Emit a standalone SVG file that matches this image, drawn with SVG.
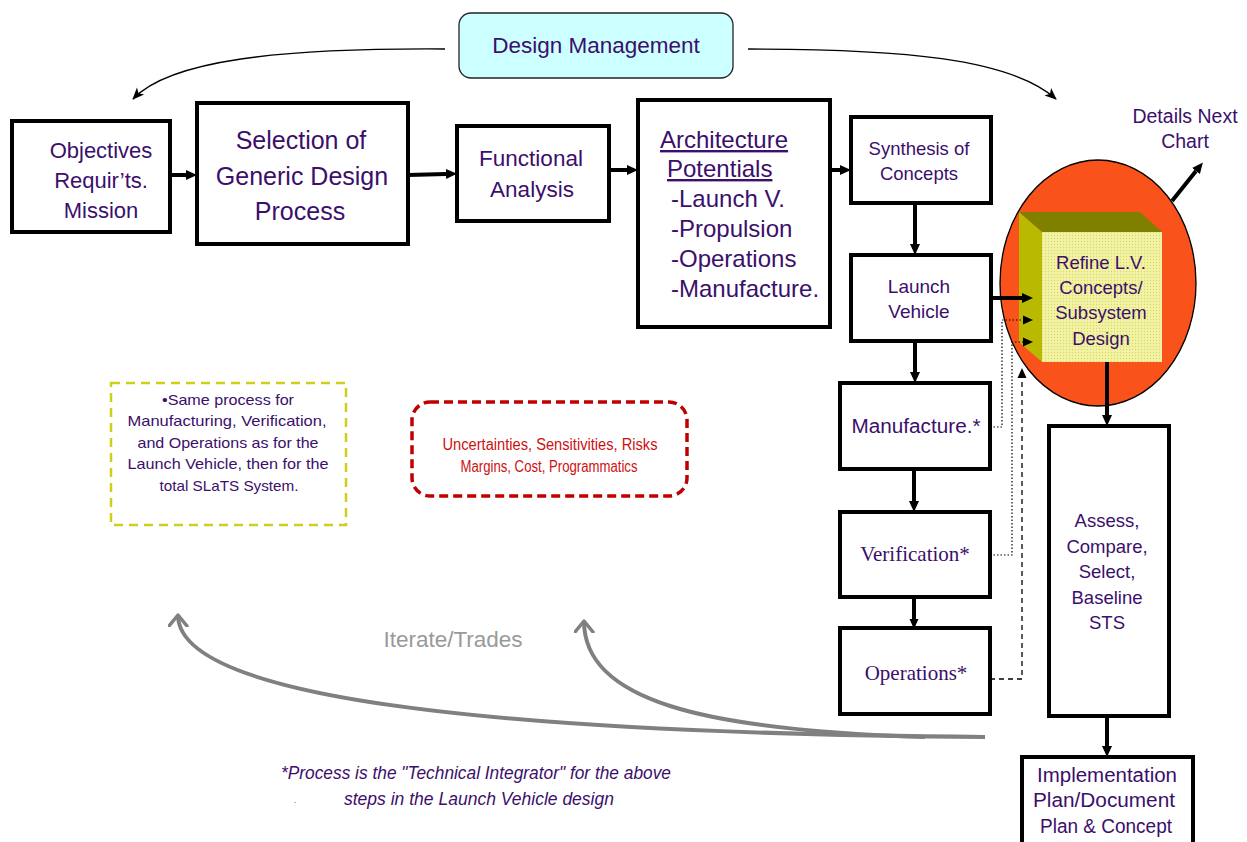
<svg xmlns="http://www.w3.org/2000/svg" width="1247" height="842" viewBox="0 0 1247 842">
<style>
.box{fill:#fff;stroke:#000;stroke-width:4}
.t{font-family:"Liberation Sans",Arial,sans-serif;fill:#3B0F6B;text-anchor:middle}
.ts{font-family:"Liberation Serif","Times New Roman",serif;fill:#3B0F6B;text-anchor:middle}
.l{text-anchor:start}
.u{text-decoration:underline}
.red{fill:#CC1111}
.c{fill:none;stroke:#000;stroke-width:4}
.dot{fill:none;stroke:#000;stroke-width:1.2;stroke-dasharray:1.5,2}
.dash{fill:none;stroke:#000;stroke-width:1.3;stroke-dasharray:5,4}
.gray{fill:none;stroke:#808080;stroke-width:4}
.thin{fill:none;stroke:#000;stroke-width:1.3}
</style>
<defs>
<marker id="ah" markerWidth="12" markerHeight="12" refX="0" refY="6" orient="auto" markerUnits="userSpaceOnUse"><path d="M0,1 L11,6 L0,11 z" fill="#000"/></marker>
<marker id="ahs" markerWidth="12" markerHeight="10" refX="0" refY="5" orient="auto" markerUnits="userSpaceOnUse"><path d="M0,0.5 L10,5 L0,9.5 z" fill="#000"/></marker>
<marker id="aht" markerWidth="14" markerHeight="12" refX="11" refY="6" orient="auto" markerUnits="userSpaceOnUse"><path d="M0,1 L12,6 L0,11 L3,6 z" fill="#000"/></marker>
<marker id="chev" markerWidth="16" markerHeight="22" refX="12" refY="10" orient="auto" markerUnits="userSpaceOnUse"><path d="M1,1 L12,10 L1,19" fill="none" stroke="#808080" stroke-width="3.5" stroke-linejoin="round" stroke-linecap="round"/></marker>
<pattern id="tex" width="3" height="3" patternUnits="userSpaceOnUse"><rect width="3" height="3" fill="#F3F3A8"/><circle cx="1.5" cy="1.5" r="0.7" fill="#DADA60"/></pattern>
</defs>

<g id="design-management">
<rect x="459" y="13" width="274" height="65" rx="12" fill="#CCFFFF" stroke="#222" stroke-width="1.3"/>
<text class="t" x="596" y="53" font-size="22.5">Design Management</text>
</g>

<g id="objectives">
<rect class="box" x="12" y="121" width="158" height="111"/>
<text class="t" x="101" y="158" font-size="22">Objectives</text>
<text class="t" x="101" y="188" font-size="22">Requir’ts.</text>
<text class="t" x="101" y="218" font-size="22">Mission</text>
</g>

<g id="selection">
<rect class="box" x="197" y="103" width="211" height="141"/>
<text class="t" x="301" y="149" font-size="25">Selection of</text>
<text class="t" x="302" y="185" font-size="25">Generic Design</text>
<text class="t" x="300" y="220" font-size="25">Process</text>
</g>

<g id="functional">
<rect class="box" x="457" y="126" width="152" height="95"/>
<text class="t" x="531" y="166" font-size="22.5">Functional</text>
<text class="t" x="532" y="197" font-size="22.5">Analysis</text>
</g>

<g id="architecture">
<rect class="box" x="638" y="100" width="192" height="227"/>
<text class="t l u" x="660" y="148" font-size="24">Architecture</text>
<text class="t l u" x="667" y="177" font-size="24">Potentials</text>
<text class="t l" x="671" y="207" font-size="24">-Launch V.</text>
<text class="t l" x="671" y="237" font-size="24">-Propulsion</text>
<text class="t l" x="671" y="267" font-size="24">-Operations</text>
<text class="t l" x="671" y="297" font-size="24">-Manufacture.</text>
</g>

<g id="synthesis">
<rect class="box" x="851" y="117" width="140" height="86"/>
<text class="t" x="919" y="155" font-size="18.5">Synthesis of</text>
<text class="t" x="919" y="180" font-size="18.5">Concepts</text>
</g>

<g id="launch-vehicle">
<rect class="box" x="851" y="255" width="140" height="86"/>
<text class="t" x="919" y="293" font-size="19">Launch</text>
<text class="t" x="919" y="318" font-size="19">Vehicle</text>
</g>

<g id="manufacture">
<rect class="box" x="840" y="383" width="150" height="86"/>
<text class="t" x="916" y="433" font-size="20" textLength="129" lengthAdjust="spacingAndGlyphs">Manufacture.*</text>
</g>

<g id="verification">
<rect class="box" x="840" y="512" width="150" height="85"/>
<text class="ts" x="915" y="561" font-size="21">Verification*</text>
</g>

<g id="operations">
<rect class="box" x="840" y="628" width="150" height="86"/>
<text class="ts" x="916" y="680" font-size="21">Operations*</text>
</g>

<g id="refine">
<ellipse cx="1098" cy="283" rx="98" ry="123" fill="#F9521B" stroke="#000" stroke-width="1.3"/>
<polygon points="1019,212 1140,212 1162,232 1042,232" fill="#808000"/>
<polygon points="1019,212 1042,232 1042,362 1019,342" fill="#B9B900"/>
<rect x="1042" y="232" width="120" height="130" fill="url(#tex)"/>
<text class="t" x="1101" y="269" font-size="18.5">Refine L.V.</text>
<text class="t" x="1101" y="294" font-size="18.5">Concepts/</text>
<text class="t" x="1101" y="319" font-size="18.5">Subsystem</text>
<text class="t" x="1101" y="345" font-size="18.5">Design</text>
</g>

<g id="details-next-chart">
<text class="t" x="1185" y="123" font-size="19.5">Details Next</text>
<text class="t" x="1185" y="148" font-size="19.5">Chart</text>
</g>

<g id="assess">
<rect class="box" x="1049" y="426" width="120" height="290"/>
<text class="t" x="1107" y="527" font-size="18.5">Assess,</text>
<text class="t" x="1107" y="553" font-size="18.5">Compare,</text>
<text class="t" x="1107" y="578" font-size="18.5">Select,</text>
<text class="t" x="1107" y="604" font-size="18.5">Baseline</text>
<text class="t" x="1107" y="629" font-size="18.5">STS</text>
</g>

<g id="implementation">
<rect class="box" x="1022" y="757" width="171" height="90"/>
<text class="t" x="1107" y="782" font-size="19.5" textLength="140" lengthAdjust="spacingAndGlyphs">Implementation</text>
<text class="t" x="1104" y="807" font-size="19.5" textLength="142" lengthAdjust="spacingAndGlyphs">Plan/Document</text>
<text class="t" x="1106" y="833" font-size="19.5" textLength="132" lengthAdjust="spacingAndGlyphs">Plan &amp; Concept</text>
</g>

<g id="same-process-note">
<rect x="111" y="383" width="235" height="142" fill="none" stroke="#CFCF1A" stroke-width="2.5" stroke-dasharray="9,6"/>
<text class="t" x="228" y="405" font-size="14.5" textLength="132" lengthAdjust="spacingAndGlyphs">•Same process for</text>
<text class="t" x="227" y="426" font-size="14.5" textLength="199" lengthAdjust="spacingAndGlyphs">Manufacturing, Verification,</text>
<text class="t" x="228" y="448" font-size="14.5" textLength="181" lengthAdjust="spacingAndGlyphs">and Operations as for the</text>
<text class="t" x="228" y="469" font-size="14.5" textLength="201" lengthAdjust="spacingAndGlyphs">Launch Vehicle, then for the</text>
<text class="t" x="229" y="491" font-size="14.5" textLength="139" lengthAdjust="spacingAndGlyphs">total SLaTS System.</text>
</g>

<g id="uncertainties-note">
<rect x="412" y="402" width="275" height="94" rx="18" fill="none" stroke="#C00000" stroke-width="3.5" stroke-dasharray="9,5"/>
<text class="t red" x="550" y="450" font-size="16" textLength="215" lengthAdjust="spacingAndGlyphs">Uncertainties,  Sensitivities,  Risks</text>
<text class="t red" x="549" y="472" font-size="16" textLength="177" lengthAdjust="spacingAndGlyphs">Margins, Cost, Programmatics</text>
</g>

<g id="iterate-label">
<text class="t" x="453" y="647" font-size="22.5" style="fill:#999999">Iterate/Trades</text>
</g>

<g id="footnote">
<text class="t" x="476" y="779" font-size="17.5" font-style="italic" textLength="390" lengthAdjust="spacingAndGlyphs">*Process is the "Technical Integrator" for the above</text>
<text class="t" x="479" y="805" font-size="17.5" font-style="italic" textLength="270" lengthAdjust="spacingAndGlyphs">steps in the Launch Vehicle design</text>
<text class="t" x="295" y="803" font-size="8">.</text>
</g>

<g id="connectors">
<path class="thin" d="M445,49 C280,48 170,60 133,99" marker-end="url(#aht)"/>
<path class="thin" d="M748,49 C900,49 1010,58 1056,99" marker-end="url(#aht)"/>
<line class="c" x1="170" y1="175" x2="186" y2="175" marker-end="url(#ah)"/>
<line class="c" x1="408" y1="175" x2="446" y2="174" marker-end="url(#ah)"/>
<line class="c" x1="609" y1="170" x2="627" y2="170" marker-end="url(#ah)"/>
<line class="c" x1="830" y1="170" x2="840" y2="170" marker-end="url(#ah)"/>
<line class="c" x1="915" y1="203" x2="915" y2="244" marker-end="url(#ah)"/>
<line class="c" x1="915" y1="341" x2="915" y2="372" marker-end="url(#ah)"/>
<line class="c" x1="914" y1="469" x2="914" y2="501" marker-end="url(#ah)"/>
<line class="c" x1="914" y1="597" x2="914" y2="619" stroke-width="3" marker-end="url(#ahs)"/>
<line class="c" x1="991" y1="298" x2="1022" y2="298" marker-end="url(#ah)"/>
<line class="c" x1="1107" y1="362" x2="1107" y2="415" marker-end="url(#ah)"/>
<line class="c" x1="1107" y1="716" x2="1107" y2="746" marker-end="url(#ah)"/>
<line class="c" x1="1172" y1="201" x2="1196" y2="171" marker-end="url(#ah)"/>
<path class="dot" d="M990,427 H1002 V320 H1023" marker-end="url(#ahs)"/>
<path class="dot" d="M990,555 H1012 V342 H1023" marker-end="url(#ahs)"/>
<path class="dash" d="M990,679 H1022 V378" marker-end="url(#ahs)"/>
<path class="gray" d="M985,737 C500,733 178,700 178,615" marker-end="url(#chev)"/>
<path class="gray" d="M925,737 C700,730 584,700 584,621" marker-end="url(#chev)"/>
</g>
</svg>
